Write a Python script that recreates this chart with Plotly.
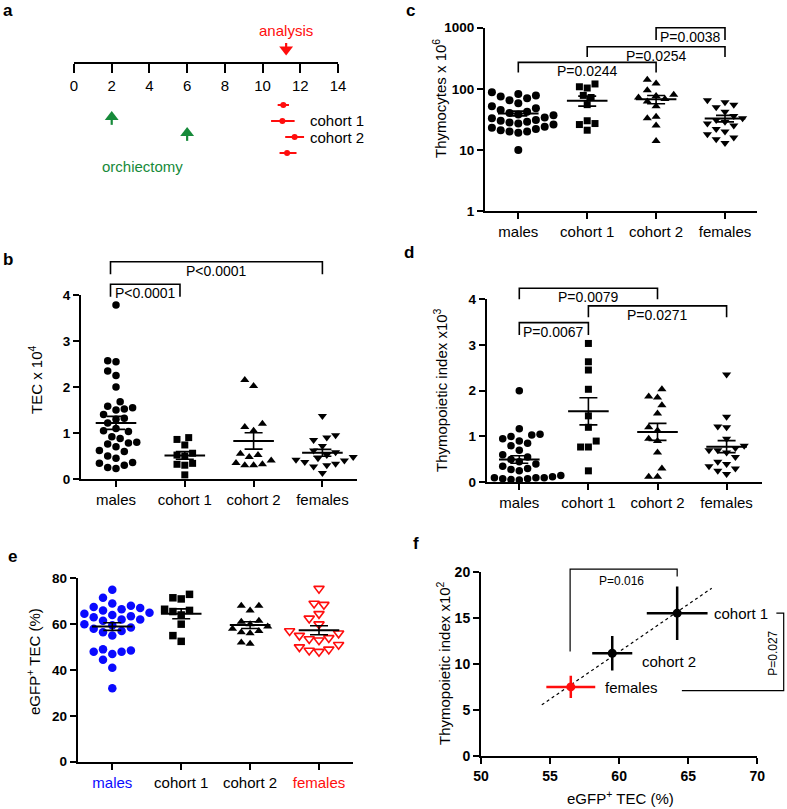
import numpy as np
import plotly.graph_objects as go

W, H = 787, 809
FONT = "Liberation Sans, Arial, sans-serif"
RED = "#ff0d0d"
BLUE = "#0a0aff"
GREEN = "#168a3a"

categories = ["males", "cohort 1", "cohort 2", "females"]

# ---------------- panel a : timeline ----------------
timeline_rows = ["males", "males", "males", "females"]
timeline_cohort = ["", "cohort 1", "cohort 2", ""]
analysis_age = [11.1, 11.05, 11.7, 11.3]
analysis_age_lo = [10.8, 10.45, 11.2, 10.9]
analysis_age_hi = [11.4, 11.7, 12.2, 11.8]
orchiectomy_age = [None, 2, 6, None]
analysis_time = 11.25
age_ticks = [0, 2, 4, 6, 8, 10, 12, 14]

# ---------------- panel b : TEC x 10^4 ----------------
tec_males = [3.78, 2.57, 2.55, 2.35, 2.25, 2.0, 1.68, 1.58, 1.55, 1.52, 1.5, 1.4, 1.32, 1.3,
             1.22, 1.1, 1.05, 1.03, 0.92, 0.88, 0.8, 0.78, 0.76, 0.7, 0.62, 0.6, 0.5, 0.45,
             0.36, 0.34, 0.3, 0.25, 0.23]
tec_cohort1 = [0.9, 0.86, 0.74, 0.56, 0.52, 0.5, 0.34, 0.32, 0.3, 0.09]
tec_cohort2 = [2.15, 2.02, 1.2, 1.13, 1.05, 0.55, 0.52, 0.48, 0.4, 0.35, 0.32, 0.3, 0.3]
tec_females = [1.37, 0.95, 0.9, 0.85, 0.72, 0.62, 0.58, 0.52, 0.48, 0.45, 0.42, 0.4, 0.37,
               0.33, 0.3, 0.27, 0.13]

# ---------------- panel c : Thymocytes x 10^6 ----------------
thy_males = [88, 82, 78, 75, 70, 65, 58, 52, 48, 45, 42, 40, 38, 37, 35, 34, 33, 32, 31, 30,
             29, 28, 27, 26, 25, 24, 23, 22, 21, 20, 20, 19, 10]
thy_cohort1 = [120, 108, 103, 78, 72, 55, 30, 27, 26, 21]
thy_cohort2 = [140, 122, 95, 80, 76, 72, 68, 62, 52, 35, 33, 25, 14]
thy_females = [65, 60, 55, 50, 42, 36, 33, 31, 29, 27, 25, 22, 20, 18, 16, 15, 13]

# ---------------- panel d : Thymopoietic index x10^3 ----------------
ti_males = [2.0, 1.17, 1.05, 1.03, 1.0, 0.95, 0.9, 0.85, 0.8, 0.7, 0.6, 0.55, 0.5, 0.45, 0.4,
            0.35, 0.3, 0.28, 0.25, 0.2, 0.15, 0.14, 0.12, 0.12, 0.1, 0.1, 0.1, 0.08, 0.08,
            0.06, 0.05]
ti_cohort1 = [3.03, 2.63, 2.45, 2.03, 1.45, 1.2, 0.9, 0.77, 0.77, 0.25]
ti_cohort2 = [2.03, 1.87, 1.85, 1.68, 1.5, 1.2, 1.13, 0.95, 0.9, 0.65, 0.3, 0.12, 0.12]
ti_females = [2.35, 1.43, 1.22, 1.2, 0.95, 0.8, 0.7, 0.75, 0.7, 0.65, 0.55, 0.45, 0.4, 0.35,
              0.3, 0.25, 0.18]

# ---------------- panel e : eGFP+ TEC (%) ----------------
egfp_males = [75, 71.5, 69, 68, 67.5, 67, 66.5, 66, 65.5, 65, 64.5, 64, 63.5, 63, 62, 62, 62,
              61.5, 60, 59.5, 58.5, 58, 57, 56.5, 55, 49, 48.5, 48, 48, 47, 44.5, 41, 32]
egfp_cohort1 = [73, 71.5, 71, 66.5, 66, 65.5, 64, 60, 55, 52.5]
egfp_cohort2 = [68, 68, 66, 61.5, 61, 60, 59, 58, 57, 56.5, 56, 52, 51.5]
egfp_females = [75.5, 69, 68.5, 64.5, 62.5, 60, 57, 56, 55, 54, 53.5, 53, 51, 50, 49, 48.5, 48]

# ---------------- panel f : group means ----------------
f_groups = ["cohort 1", "cohort 2", "females"]
f_egfp_mean = [64.2, 59.5, 56.5]
f_egfp_sem = [2.2, 1.45, 1.77]
f_index_mean = [15.5, 11.15, 7.5]
f_index_sem = [2.9, 1.87, 1.2]
f_fit_x = [54.4, 66.7]

# ======================================================================
fig = go.Figure()
annotations = []


def dom_x(px0, px1):
    return [px0 / W, px1 / W]


def dom_y(py_top, py_bottom):
    return [1 - py_bottom / H, 1 - py_top / H]


def swarm_offsets(vals, px_per_unit, d, log=False, step=None):
    step = step or d * 0.5
    ys = [(np.log10(v) if log else v) * px_per_unit for v in vals]
    order = sorted(range(len(vals)), key=lambda i: ys[i])
    placed, offs = [], [0.0] * len(vals)
    for i in order:
        y = ys[i]
        k, chosen = 0, None
        while chosen is None:
            cands = [0.0] if k == 0 else ([k * step, -k * step] if k % 2 else [-k * step, k * step])
            for c in cands:
                if all((c - px) ** 2 + (y - py) ** 2 >= d * d for px, py in placed):
                    chosen = c
                    break
            k += 1
        offs[i] = chosen
        placed.append((chosen, y))
    return offs


layout_axes = {}

base_line = dict(showline=True, linewidth=2, linecolor="black", ticks="outside",
                 tickwidth=2, tickcolor="black", showgrid=False, zeroline=False,
                 fixedrange=True, automargin=False)


def cat_axis(L, R, m, sp, anchor, ticktext):
    d = dict(base_line)
    d.update(domain=dom_x(L, R), range=[(L - m) / sp, (R - m) / sp], anchor=anchor,
             tickvals=[0, 1, 2, 3], ticktext=ticktext, ticklen=6,
             tickfont=dict(size=15, family=FONT, color="black"))
    return d


def val_axis(top, bottom, rng, anchor, tickvals, typ="linear", ticktext=None):
    d = dict(base_line)
    d.update(domain=dom_y(top, bottom), range=rng, anchor=anchor, tickvals=tickvals,
             type=typ, ticklen=6,
             tickfont=dict(size=13.5, family=FONT, color="black", weight="bold"))
    if ticktext:
        d["ticktext"] = ticktext
    return d


def hidden_axis(domain, rng, anchor, typ="linear"):
    return dict(domain=domain, range=rng, anchor=anchor, visible=False, type=typ,
                showgrid=False, zeroline=False, fixedrange=True, automargin=False)


# ---------------- panel a ----------------
A_L, A_R = 74, 338
layout_axes["xaxis"] = dict(base_line, domain=dom_x(A_L, A_R), range=[0, 14], anchor="y",
                            tickvals=age_ticks, ticklen=9,
                            tickfont=dict(size=15, family=FONT, color="black"))
# strip above the time axis: value = pixels above the axis line
layout_axes["yaxis"] = hidden_axis(dom_y(20, 62), [0, 42], "x")
row_px = 16.0
rows = [1, 2, 3, 4]
top_r = 1 - (105 - 62) / row_px
bot_r = 1 + (175 - 105) / row_px
layout_axes["yaxis2"] = hidden_axis(dom_y(62, 175), [bot_r, top_r], "x")

fig.add_trace(go.Scatter(x=[analysis_time], y=[30], xaxis="x", yaxis="y", mode="text",
                         text=["analysis"], textposition="middle center",
                         textfont=dict(size=15, family=FONT, color=RED),
                         cliponaxis=False, hoverinfo="skip"))
# analysis arrow (stem + head)
fig.add_trace(go.Scatter(x=[analysis_time, analysis_time], y=[19, 14], xaxis="x", yaxis="y",
                         mode="lines", line=dict(color=RED, width=2.2),
                         cliponaxis=False, hoverinfo="skip"))
fig.add_trace(go.Scatter(x=[analysis_time], y=[12.5], xaxis="x", yaxis="y", mode="markers",
                         marker=dict(symbol="triangle-down", size=12, color=RED),
                         cliponaxis=False, hoverinfo="skip"))

fig.add_trace(go.Scatter(
    x=analysis_age, y=rows, xaxis="x", yaxis="y2", mode="markers",
    marker=dict(color=RED, size=6),
    error_x=dict(type="data", symmetric=False,
                 array=[h - a for h, a in zip(analysis_age_hi, analysis_age)],
                 arrayminus=[a - l for a, l in zip(analysis_age, analysis_age_lo)],
                 color=RED, thickness=2, width=0),
    cliponaxis=False, hoverinfo="skip"))

# orchiectomy arrows
for r, age in zip(rows, orchiectomy_age):
    if age is not None:
        fig.add_trace(go.Scatter(x=[age, age], y=[r - 0.2, r + 0.24], xaxis="x", yaxis="y2",
                                 mode="lines", line=dict(color=GREEN, width=2.2),
                                 cliponaxis=False, hoverinfo="skip"))
        fig.add_trace(go.Scatter(x=[age], y=[r - 0.25], xaxis="x", yaxis="y2", mode="markers",
                                 marker=dict(symbol="triangle-up", size=12, color=GREEN),
                                 cliponaxis=False, hoverinfo="skip"))

for r, lab in zip(rows, timeline_rows):
    annotations.append(dict(x=-0.2, y=r, xref="x", yref="y2", text=lab, showarrow=False,
                            xanchor="right", yanchor="middle",
                            font=dict(size=15, family=FONT, color="black")))
for r, lab in zip(rows, timeline_cohort):
    if lab:
        annotations.append(dict(x=12.42, y=r, xref="x", yref="y2", text=lab, showarrow=False,
                                xanchor="left", yanchor="middle",
                                font=dict(size=15, family=FONT, color="black")))
annotations.append(dict(x=3.63, y=4.86, xref="x", yref="y2", text="orchiectomy",
                        showarrow=False, font=dict(size=15, family=FONT, color=GREEN)))
annotations.append(dict(x=14.9, y=-20, xref="x", yref="y", text="age",
                        showarrow=False, xanchor="left", yanchor="middle",
                        font=dict(size=15, family=FONT, color="black")))


# ---------------- generic dot-plot panel ----------------
def dot_panel(xname, yname, groups, symbols, colors, sizes, px_per_unit, sp, log=False,
              open_flags=None):
    for i, vals in enumerate(groups):
        offs = swarm_offsets(vals, px_per_unit, sizes[i] + 0.8, log=log)
        xs = [i + o / sp for o in offs]
        is_open = open_flags[i] if open_flags else False
        marker = dict(symbol=symbols[i], size=sizes[i], color=colors[i])
        if is_open:
            marker.update(line=dict(color=colors[i], width=1.6))
        fig.add_trace(go.Scatter(x=xs, y=vals, xaxis=xname, yaxis=yname, mode="markers",
                                 marker=marker, cliponaxis=False, hoverinfo="skip"))
    for i, vals in enumerate(groups):
        arr = np.array(vals, dtype=float)
        mean = arr.mean()
        sem = arr.std(ddof=1) / np.sqrt(len(arr))
        fig.add_trace(go.Scatter(
            x=[i], y=[mean], xaxis=xname, yaxis=yname, mode="markers",
            marker=dict(symbol="line-ew", size=29, line=dict(color="black", width=2)),
            error_y=dict(type="data", array=[sem], color="black", thickness=1.6, width=9),
            cliponaxis=False, hoverinfo="skip"))


def brackets(xname, yname, items, log=False, size=14):
    for (x0, x1, yl, yleg, label) in items:
        fig.add_trace(go.Scatter(x=[x0, x0, x1, x1], y=[yleg, yl, yl, yleg], xaxis=xname,
                                 yaxis=yname, mode="lines",
                                 line=dict(color="black", width=1.6), hoverinfo="skip"))
        annotations.append(dict(x=(x0 + x1) / 2, y=np.log10(yl) if log else yl,
                                xref=xname, yref=yname, text=label, showarrow=False,
                                xanchor="center", yanchor="top", yshift=1,
                                font=dict(size=size, family=FONT, color="black")))


# ---------------- panel b ----------------
B = dict(L=81, R=356.7, m=116, sp=68.8, top=295, bot=479)
b_ppu = (B["bot"] - B["top"]) / 4
layout_axes["xaxis2"] = cat_axis(B["L"], B["R"], B["m"], B["sp"], "y3", categories)
layout_axes["yaxis3"] = val_axis(B["top"], B["bot"], [0, 4], "x2", [0, 1, 2, 3, 4])
layout_axes["yaxis4"] = hidden_axis(dom_y(250, B["bot"]), [0, (B["bot"] - 250) / b_ppu], "x2")
dot_panel("x2", "y3", [tec_males, tec_cohort1, tec_cohort2, tec_females],
          ["circle", "square", "triangle-up", "triangle-down"], ["black"] * 4,
          [7.5, 7, 8, 8], b_ppu, B["sp"])
brackets("x2", "y4", [(-0.08, 3.0, 4.724, 4.45, "P<0.0001"),
                      (-0.08, 0.93, 4.233, 3.963, "P<0.0001")])

# ---------------- panel c ----------------
C = dict(L=485, R=757, m=518.3, sp=68.9, top=27.7, bot=211)
c_ppd = (C["bot"] - C["top"]) / 3
layout_axes["xaxis3"] = cat_axis(C["L"], C["R"], C["m"], C["sp"], "y5", categories)
layout_axes["yaxis5"] = val_axis(C["top"], C["bot"], [0, 3], "x3", [1, 10, 100, 1000],
                                 typ="log", ticktext=["1", "10", "100", "1000"])
layout_axes["yaxis6"] = hidden_axis(dom_y(15, C["bot"]), [0, (C["bot"] - 15) / c_ppd], "x3",
                                    typ="log")
dot_panel("x3", "y5", [thy_males, thy_cohort1, thy_cohort2, thy_females],
          ["circle", "square", "triangle-up", "triangle-down"], ["black"] * 4,
          [8, 7, 8, 8], c_ppd, C["sp"], log=True)
brackets("x3", "y6", [(0, 2, 271, 184, "P=0.0244"),
                      (1, 3, 489, 331, "P=0.0254"),
                      (2, 3, 1000, 630, "P=0.0038")], log=True)

# ---------------- panel d ----------------
D = dict(L=486.7, R=761.7, m=519.3, sp=69.1, top=299, bot=482.3)
d_ppu = (D["bot"] - D["top"]) / 4
layout_axes["xaxis4"] = cat_axis(D["L"], D["R"], D["m"], D["sp"], "y7", categories)
layout_axes["yaxis7"] = val_axis(D["top"], D["bot"], [0, 4], "x4", [0, 1, 2, 3, 4])
layout_axes["yaxis8"] = hidden_axis(dom_y(278, D["bot"]), [0, (D["bot"] - 278) / d_ppu], "x4")
dot_panel("x4", "y7", [ti_males, ti_cohort1, ti_cohort2, ti_females],
          ["circle", "square", "triangle-up", "triangle-down"], ["black"] * 4,
          [7.5, 7, 8, 8], d_ppu, D["sp"])
brackets("x4", "y8", [(0, 2, 4.236, 3.996, "P=0.0079"),
                      (1, 3, 3.85, 3.6, "P=0.0271"),
                      (0, 1, 3.485, 3.216, "P=0.0067")])

# ---------------- panel e ----------------
E = dict(L=77.7, R=353, m=112.3, sp=68.9, top=578.3, bot=761.7)
e_ppu = (E["bot"] - E["top"]) / 80
e_ticktext = ["<span style='color:%s'>males</span>" % BLUE, "cohort 1", "cohort 2",
              "<span style='color:%s'>females</span>" % RED]
layout_axes["xaxis5"] = cat_axis(E["L"], E["R"], E["m"], E["sp"], "y9", e_ticktext)
layout_axes["yaxis9"] = val_axis(E["top"], E["bot"], [0, 80], "x5", [0, 20, 40, 60, 80])
dot_panel("x5", "y9", [egfp_males, egfp_cohort1, egfp_cohort2, egfp_females],
          ["circle", "square", "triangle-up", "triangle-down-open"],
          [BLUE, "black", "black", RED], [8.5, 7.5, 8, 9], e_ppu, E["sp"],
          open_flags=[False, False, False, True])

# ---------------- panel f ----------------
F = dict(L=481, R=757.3, top=571.7, bot=756)
fx_ppu = (F["R"] - F["L"]) / 20
fy_ppu = (F["bot"] - F["top"]) / 20
xf = dict(base_line)
xf.update(domain=dom_x(F["L"], F["R"]), range=[50, 70], anchor="y10",
          tickvals=[50, 55, 60, 65, 70], ticklen=6,
          tickfont=dict(size=14, family=FONT, color="black", weight="bold"))
layout_axes["xaxis6"] = xf
yf = val_axis(F["top"], F["bot"], [0, 20], "x6", [0, 5, 10, 15, 20])
yf["tickfont"]["size"] = 14
layout_axes["yaxis10"] = yf
layout_axes["xaxis7"] = hidden_axis(dom_x(F["L"], 787), [50, 50 + (787 - F["L"]) / fx_ppu], "y11")
layout_axes["yaxis11"] = hidden_axis(dom_y(555, F["bot"]), [0, (F["bot"] - 555) / fy_ppu], "x7")

slope, intercept = np.polyfit(f_egfp_mean, f_index_mean, 1)
fig.add_trace(go.Scatter(x=f_fit_x, y=[slope * v + intercept for v in f_fit_x],
                         xaxis="x6", yaxis="y10", mode="lines",
                         line=dict(color="black", width=1.2, dash="dot"), hoverinfo="skip"))
f_colors = ["black", "black", RED]
for i in range(len(f_groups)):
    fig.add_trace(go.Scatter(
        x=[f_egfp_mean[i]], y=[f_index_mean[i]], xaxis="x6", yaxis="y10", mode="markers",
        marker=dict(color=f_colors[i], size=9),
        error_x=dict(type="data", array=[f_egfp_sem[i]], color=f_colors[i], thickness=2.5, width=0),
        error_y=dict(type="data", array=[f_index_sem[i]], color=f_colors[i], thickness=2.5, width=0),
        cliponaxis=False, hoverinfo="skip"))
f_label_pos = [(66.7, 15.5), (61.5, 10.3), (58.8, 7.42)]
for (lx, ly), lab in zip(f_label_pos, f_groups):
    annotations.append(dict(x=lx, y=ly, xref="x6", yref="y10", text=lab, showarrow=False,
                            xanchor="left", yanchor="middle",
                            font=dict(size=15, family=FONT, color="black")))
fig.add_trace(go.Scatter(x=[56.45, 56.45, 64.2, 64.2], y=[11.34, 20.29, 20.29, 19.49],
                         xaxis="x7", yaxis="y11", mode="lines",
                         line=dict(color="black", width=1.2), hoverinfo="skip"))
fig.add_trace(go.Scatter(x=[71.38, 71.91, 71.91, 64.54], y=[15.51, 15.51, 7.1, 7.1],
                         xaxis="x7", yaxis="y11", mode="lines",
                         line=dict(color="black", width=1.2), hoverinfo="skip"))
annotations.append(dict(x=60.2, y=18.95, xref="x7", yref="y11", text="P=0.016",
                        showarrow=False, xanchor="center", yanchor="middle",
                        font=dict(size=12, family=FONT, color="black")))
annotations.append(dict(x=71.18, y=11.16, xref="x7", yref="y11", text="P=0.027",
                        showarrow=False, textangle=-90, xanchor="center", yanchor="middle",
                        font=dict(size=12, family=FONT, color="black")))


# ---------------- axis titles ----------------
def paper_text(text, cx, cy, size=15, angle=0, bold=False):
    annotations.append(dict(x=cx / W, y=1 - cy / H, xref="paper", yref="paper",
                            text=("<b>%s</b>" % text) if bold else text,
                            showarrow=False, textangle=angle,
                            xanchor="center", yanchor="middle",
                            font=dict(size=size, family=FONT, color="black")))


paper_text("TEC x 10<sup>4</sup>", 35, 380, angle=-90)
paper_text("Thymocytes x 10<sup>6</sup>", 440, 99, angle=-90)
paper_text("Thymopoietic index x10<sup>3</sup>", 440, 390, angle=-90)
paper_text("eGFP<sup>+</sup> TEC (%)", 33, 662, angle=-90)
paper_text("Thymopoietic index x10<sup>2</sup>", 443, 663, angle=-90)
paper_text("eGFP<sup>+</sup> TEC (%)", 620, 797)

# ---------------- panel letters ----------------
for letter, (cx, cy) in zip("abcdef", [(8, 10), (8, 259), (410, 10), (409, 253), (12, 556),
                                        (416, 543)]):
    paper_text(letter, cx, cy, size=17, bold=True)

fig.update_layout(width=W, height=H,
                  margin=dict(l=0, r=0, t=0, b=0, pad=0, autoexpand=False),
                  paper_bgcolor="white", plot_bgcolor="rgba(0,0,0,0)", showlegend=False,
                  font=dict(family=FONT, color="black"), annotations=annotations,
                  **layout_axes)

fig.write_html("out.html", config={"displayModeBar": False},
               post_script="document.body.style.margin='0px';")
